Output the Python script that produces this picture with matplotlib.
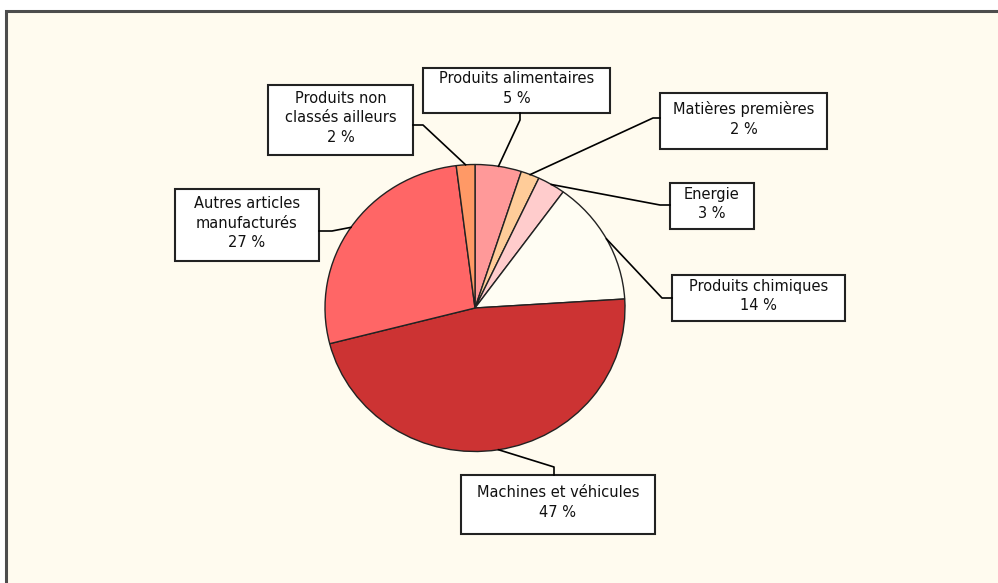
import numpy as np
from matplotlib import pyplot as plt
from matplotlib.patches import Rectangle

plt.rcParams['font.family'] = ['DejaVu Sans']

# data (share of each product group, %)
labels = ['Produits alimentaires', 'Matières premières', 'Energie',
          'Produits chimiques', 'Machines et véhicules',
          'Autres articles\nmanufacturés', 'Produits non\nclassés ailleurs']
values = [5, 2, 3, 14, 47, 27, 2]
colors = ['#FF9999', '#FFCC99', '#FFCCCC', '#FFFDF3',
          '#CC3333', '#FF6666', '#FF9966']

W, H = 998, 583
BG = '#FFFBEF'

# label boxes (pixels: x0, y0, x1, y1) and connector elbows
boxes = [(423, 68, 610, 113), (660, 93, 827, 149), (670, 183, 754, 229),
         (672, 275, 845, 321), (461, 475, 655, 534), (175, 189, 319, 261),
         (268, 85, 413, 155)]
elbows = [[(520, 113), (520, 120)], [(660, 118), (653, 118)],
          [(670, 205), (660, 205)], [(672, 298), (662, 298)],
          [(554, 475), (554, 467)], [(319, 231), (332, 231)],
          [(413, 125), (423, 125)]]

# pie position in pixels
cx, cy, rx, ry = 475, 308, 150, 143.5


def graphing():
    fig = plt.figure(figsize=(W / 100, H / 100), dpi=100)
    fig.patch.set_facecolor('white')

    bg = fig.add_axes([0, 0, 1, 1])
    bg.set_xlim(0, W)
    bg.set_ylim(H, 0)
    bg.axis('off')
    bg.add_patch(Rectangle((6, 11), W, H, facecolor=BG, edgecolor='none'))
    # frame: only left and top edges are visible
    bg.plot([6, 6, W], [H, 11, 11], color='#4d4d4d', lw=2.2,
            solid_joinstyle='miter')

    pax = fig.add_axes([(cx - rx) / W, (H - cy - ry) / H,
                        2 * rx / W, 2 * ry / H])
    pax.pie(values, colors=colors, startangle=90, counterclock=False,
            radius=1, wedgeprops=dict(edgecolor='#222222', linewidth=1))
    pax.set_aspect('auto')
    pax.set_xlim(-1, 1)
    pax.set_ylim(-1, 1)
    pax.axis('off')

    ax = fig.add_axes([0, 0, 1, 1])
    ax.set_xlim(0, W)
    ax.set_ylim(H, 0)
    ax.axis('off')
    ax.patch.set_alpha(0)

    start = 90.0
    for lab, v, box, elb in zip(labels, values, boxes, elbows):
        mid = np.radians(start - v * 3.6 / 2)
        start -= v * 3.6
        ex, ey = cx + rx * np.cos(mid), cy - ry * np.sin(mid)
        xs = [p[0] for p in elb] + [ex]
        ys = [p[1] for p in elb] + [ey]
        ax.plot(xs, ys, color='black', lw=1.2)
        x0, y0, x1, y1 = box
        ax.add_patch(Rectangle((x0, y0), x1 - x0, y1 - y0, facecolor='white',
                               edgecolor='#222222', lw=1.5))
        ax.text((x0 + x1) / 2, (y0 + y1) / 2 - 2, f'{lab}\n{v} %',
                ha='center', va='center', fontsize=10.5, linespacing=1.4,
                color='#111111')

    fig.savefig('out.png', dpi=100)


if __name__ == "__main__":
    graphing()
